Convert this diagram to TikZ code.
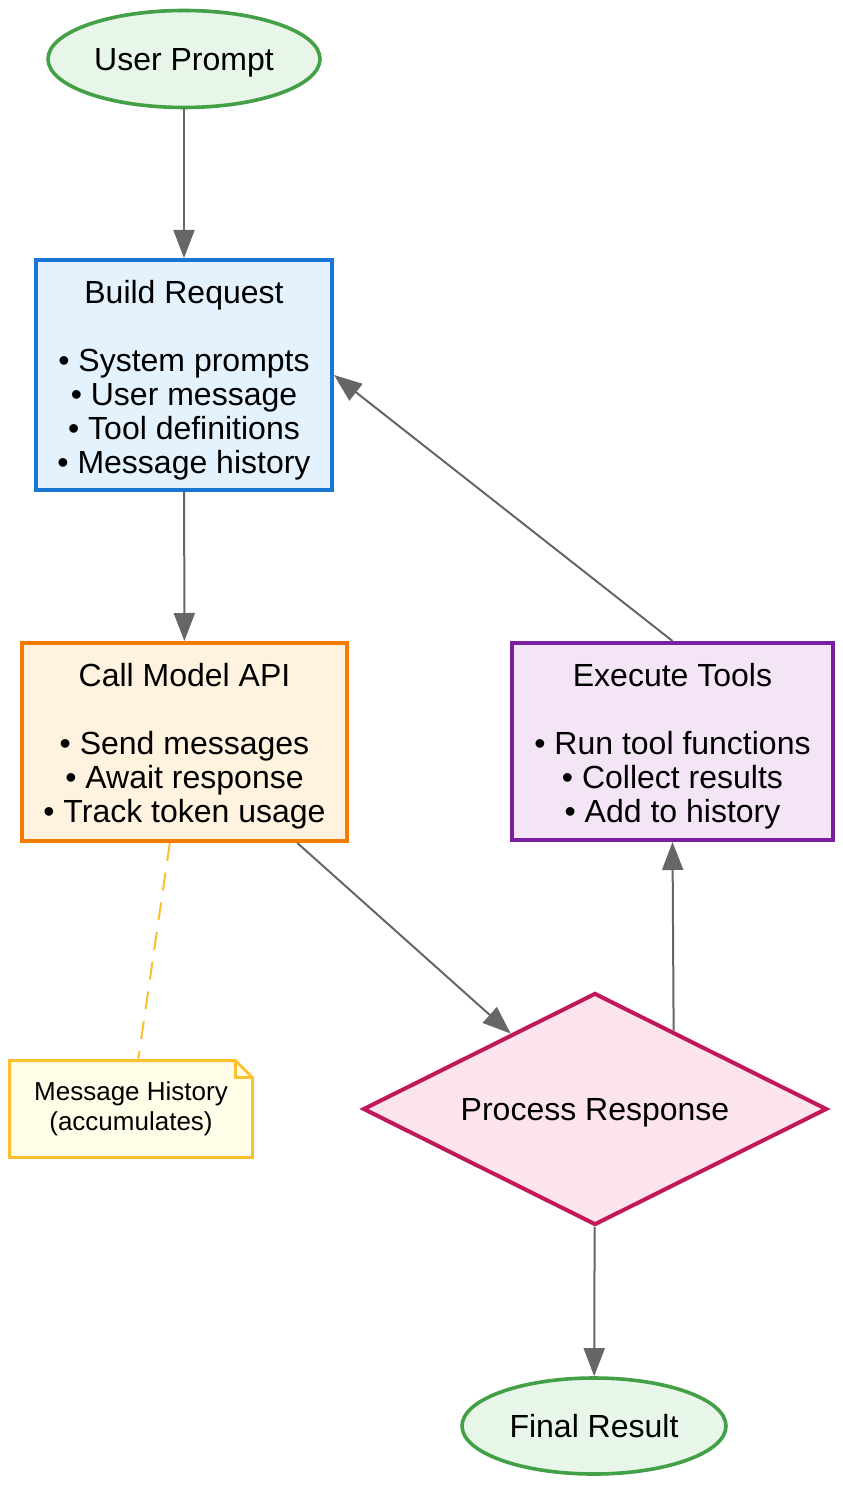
\documentclass[tikz,border=0pt]{standalone}
\usepackage{fontspec}
\setmainfont{Liberation Sans}
\usetikzlibrary{shapes.geometric,arrows.meta,calc}
\definecolor{termline}{HTML}{43A047}
\definecolor{termfill}{HTML}{E8F5E9}
\definecolor{buildline}{HTML}{1976D2}
\definecolor{buildfill}{HTML}{E3F2FD}
\definecolor{callline}{HTML}{F57C00}
\definecolor{callfill}{HTML}{FFF3E0}
\definecolor{execline}{HTML}{7B1FA2}
\definecolor{execfill}{HTML}{F3E5F5}
\definecolor{procline}{HTML}{C2185B}
\definecolor{procfill}{HTML}{FCE4EC}
\definecolor{noteline}{HTML}{FBC02D}
\definecolor{notefill}{HTML}{FFFDE7}
\definecolor{edgegray}{HTML}{666666}
\begin{document}
\begin{tikzpicture}[x=0.5pt,y=-0.5pt,
    every node/.style={font=\fontsize{16}{17}\selectfont, align=center, inner sep=0pt},
    term/.style={ellipse, draw=termline, fill=termfill, line width=1.8pt, text depth=0pt},
    box/.style={rectangle, line width=2pt},
    flow/.style={draw=edgegray, line width=1pt, -{Triangle[length=14pt,width=10.5pt]}}]
    \useasboundingbox (0,0) rectangle (842,1486);

    % Start and end
    \node[term, minimum width=136pt, minimum height=48.5pt] (prompt) at (184,59) {User Prompt};
    \node[term, minimum width=132pt, minimum height=48pt] (final) at (594,1426) {Final Result};

    % Steps of the loop
    \node[box, draw=buildline, fill=buildfill, minimum width=148pt, minimum height=115pt] (build) at (184,375)
        {\rule{0pt}{17pt}Build Request\\[17pt]• System prompts\\• User message\\• Tool definitions\\• Message history};
    \node[box, draw=callline, fill=callfill, minimum width=162.5pt, minimum height=99pt] (call) at (184.5,742)
        {\rule{0pt}{16pt}Call Model API\\[17pt]• Send messages\\• Await response\\• Track token usage};
    \node[box, draw=execline, fill=execfill, minimum width=160.5pt, minimum height=98.5pt] (exec) at (672.5,741.5)
        {\rule{0pt}{16pt}Execute Tools\\[17pt]• Run tool functions\\• Collect results\\• Add to history};
    \node[diamond, aspect=2, draw=procline, fill=procfill, line width=2pt, text depth=0pt,
        minimum width=232pt, minimum height=116pt] (proc) at (595,1109) {Process Response};

    % Note with folded corner
    \node[fill=notefill, minimum width=121pt, minimum height=48pt, font=\fontsize{13}{15}\selectfont]
        (note) at (131,1109) {Message History\\(accumulates)};
    \fill[white] ([xshift=-8.5pt]note.north east) -- (note.north east) -- ([yshift=-8.5pt]note.north east) -- cycle;
    \draw[noteline, line width=1.4pt] (note.south west) -- (note.north west) -- ([xshift=-8.5pt]note.north east)
        -- ([yshift=-8.5pt]note.north east) -- (note.south east) -- cycle;
    \draw[noteline, line width=1.4pt] ([xshift=-8.5pt]note.north east) |- ([yshift=-8.5pt]note.north east);

    % Edges
    \draw[flow] (prompt) -- (build);
    \draw[flow] (build) -- (call);
    \draw[flow] (call) -- (proc);
    \draw[flow] ($(proc.north)!0.336!(proc.east)$) -- (exec.south);
    \draw[flow] (exec.north) -- (build.east);
    \draw[flow] (proc) -- (final);
    \draw[noteline, line width=1pt, dash pattern=on 9pt off 6pt] (call) -- (note);
\end{tikzpicture}
\end{document}
